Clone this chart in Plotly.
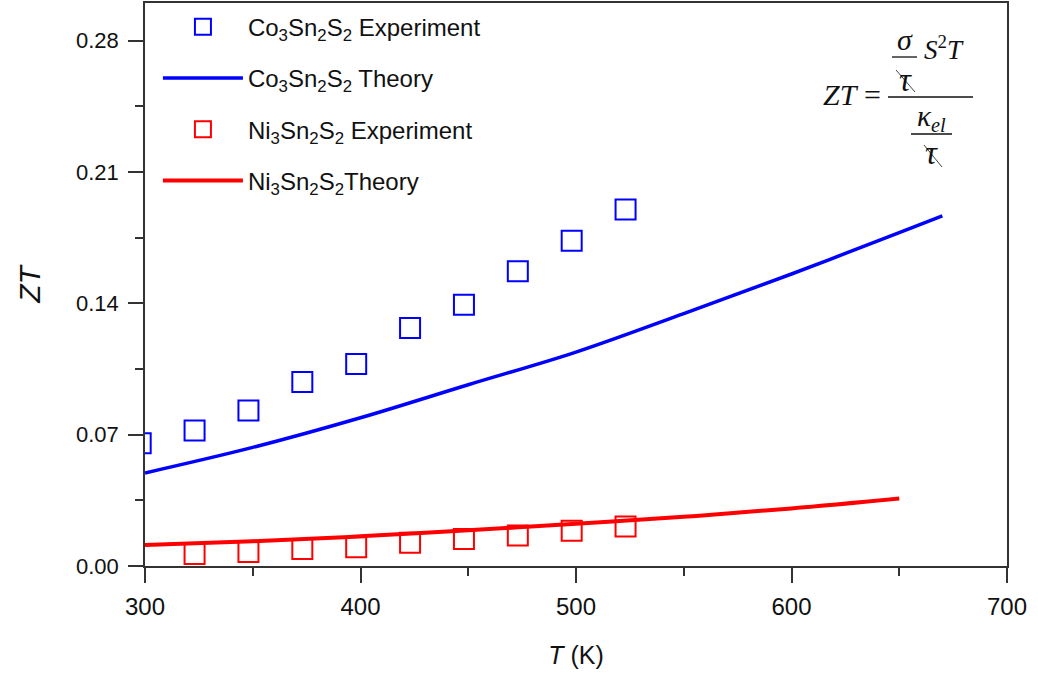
import plotly.graph_objects as go

# Temperature (K) and figure of merit ZT
t_exp_co = [298, 323, 348, 373, 398, 423, 448, 473, 498, 523]
zt_exp_co = [0.0654, 0.0722, 0.0828, 0.0980, 0.1077, 0.1268, 0.1392, 0.1570, 0.1733, 0.1899]

t_th_co = [300, 350, 400, 450, 500, 550, 600, 650, 670]
zt_th_co = [0.0496, 0.0632, 0.0790, 0.0966, 0.1140, 0.1345, 0.1556, 0.1777, 0.1866]

t_exp_ni = [323, 348, 373, 398, 423, 448, 473, 498, 523]
zt_exp_ni = [0.0064, 0.0075, 0.0091, 0.0100, 0.0124, 0.0144, 0.0162, 0.0188, 0.0210]

t_th_ni = [300, 350, 400, 450, 500, 550, 600, 650]
zt_th_ni = [0.0112, 0.0132, 0.0158, 0.0190, 0.0225, 0.0262, 0.0307, 0.0360]

y_ticks = [0.0, 0.07, 0.14, 0.21, 0.28]
x_ticks = [300, 400, 500, 600, 700]

BLUE = "#0000FF"
RED = "#FF0000"
INK = "#111111"
AXIS = "#333333"
SANS = "Liberation Sans, Arial, sans-serif"
SERIF = "Liberation Serif, Times New Roman, serif"

W, H = 1038, 677
ML, MR, MT, MB = 145, 31, 3, 111
PW, PH = W - ML - MR, H - MT - MB


def px(x):
    return (x - ML) / PW


def py(y):
    return (H - MB - y) / PH


fig = go.Figure()

# Theory curves first so the open squares sit on top of them
fig.add_trace(go.Scatter(
    x=t_th_co, y=zt_th_co, mode="lines",
    name="Co<sub>3</sub>Sn<sub>2</sub>S<sub>2</sub> Theory",
    legendgroup="b", legendrank=2,
    line=dict(color=BLUE, width=3.5, shape="spline"),
))
fig.add_trace(go.Scatter(
    x=t_th_ni, y=zt_th_ni, mode="lines",
    name="Ni<sub>3</sub>Sn<sub>2</sub>S<sub>2</sub>Theory",
    legendgroup="d", legendrank=4,
    line=dict(color=RED, width=4, shape="spline"),
))
fig.add_trace(go.Scatter(
    x=t_exp_co, y=zt_exp_co, mode="markers",
    name="Co<sub>3</sub>Sn<sub>2</sub>S<sub>2</sub> Experiment",
    legendgroup="a", legendrank=1,
    marker=dict(symbol="square-open", size=20, color=BLUE, line=dict(width=2, color=BLUE)),
))
fig.add_trace(go.Scatter(
    x=t_exp_ni, y=zt_exp_ni, mode="markers",
    name="Ni<sub>3</sub>Sn<sub>2</sub>S<sub>2</sub> Experiment",
    legendgroup="c", legendrank=3,
    marker=dict(symbol="square-open", size=20, color=RED, line=dict(width=2, color=RED)),
))

axis_common = dict(
    showline=True, linecolor=AXIS, linewidth=1.5, mirror=True,
    ticks="outside", ticklen=15, tickwidth=1.5, tickcolor=AXIS,
    showgrid=False, zeroline=False,
)

fig.update_xaxes(
    range=[300, 700], tickvals=x_ticks,
    tickfont=dict(family=SANS, size=24, color=INK),
    ticklabelstandoff=3,
    minor=dict(dtick=50, tick0=300, ticks="outside", ticklen=8, tickwidth=1.5, tickcolor=AXIS),
    title=dict(text="<i>T</i> (K)", font=dict(family=SANS, size=25, color=INK), standoff=28),
    **axis_common,
)
fig.update_yaxes(
    range=[0, 0.30], tickvals=y_ticks, tickformat=".2f",
    tickfont=dict(family=SANS, size=22, color=INK),
    ticklabelstandoff=5,
    minor=dict(dtick=0.035, tick0=0, ticks="outside", ticklen=8, tickwidth=1.5, tickcolor=AXIS),
    title=dict(text="<i>ZT</i>", font=dict(family=SANS, size=30, color=INK), standoff=27),
    **axis_common,
)

# ZT formula in the upper right corner
ann = []
shapes = []


def text(x, y, s, size):
    ann.append(dict(x=px(x), y=py(y), xref="paper", yref="paper", text=s,
                    showarrow=False, xanchor="center", yanchor="middle",
                    font=dict(family=SERIF, size=size, color=INK)))


def seg(x0, y0, x1, y1, w=1.3, c=INK):
    shapes.append(dict(type="line", xref="paper", yref="paper",
                       x0=px(x0), y0=py(y0), x1=px(x1), y1=py(y1),
                       line=dict(color=c, width=w)))


text(852, 95, "<i>ZT</i> =", 30)
seg(888, 97, 973, 97)
text(905, 39, "<i>σ</i>", 30)
seg(892, 57, 917, 57)
text(905, 80, "<i>τ</i>", 33)
seg(896, 70, 915, 92, w=1, c="#444444")
text(944, 48, "<i>S</i><sup>2</sup><i>T</i>", 27)
text(931, 118, "<i>κ</i><sub><i>el</i></sub>", 29)
seg(911, 134, 952, 134)
text(931, 153, "<i>τ</i>", 33)
seg(924, 145, 942, 167, w=1, c="#444444")

fig.update_layout(
    width=W, height=H,
    margin=dict(l=ML, r=MR, t=MT, b=MB, autoexpand=False),
    paper_bgcolor="white", plot_bgcolor="white",
    font=dict(family=SANS, color=INK),
    legend=dict(
        x=0.015, y=0.997, xanchor="left", yanchor="top",
        bgcolor="rgba(0,0,0,0)", borderwidth=0,
        font=dict(family=SANS, size=24, color=INK),
        itemwidth=80, tracegroupgap=17,
        traceorder="grouped",
    ),
    annotations=ann, shapes=shapes,
)

fig.write_html("out.html")
